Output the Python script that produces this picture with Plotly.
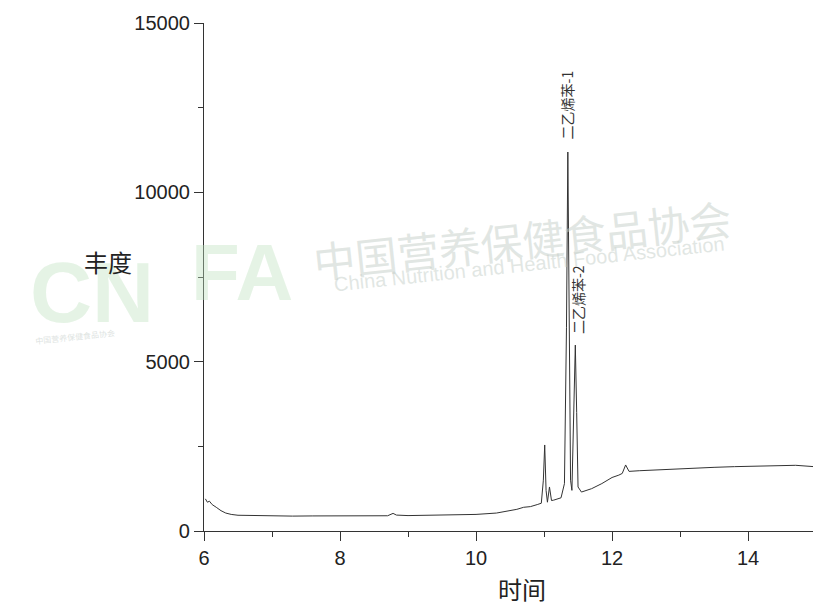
import plotly.graph_objects as go

# retention time (min) and abundance
time_min = [6.02, 6.05, 6.08, 6.12, 6.18, 6.25, 6.32, 6.40, 6.50, 6.70, 7.00, 7.30, 7.60,
            8.00, 8.40, 8.70, 8.78, 8.83, 9.00, 9.50, 10.00, 10.30, 10.50, 10.60, 10.70,
            10.80, 10.90, 10.96, 10.99, 11.01, 11.03, 11.05, 11.08, 11.11, 11.14, 11.20,
            11.25, 11.30, 11.33, 11.35, 11.37, 11.39, 11.41, 11.44, 11.46, 11.48, 11.50,
            11.55, 11.70, 11.85, 12.00, 12.10, 12.15, 12.20, 12.25, 12.40, 12.60, 12.80,
            13.00, 13.20, 13.50, 13.80, 14.00, 14.30, 14.50, 14.70, 14.97]
abundance = [950, 850, 880, 780, 700, 600, 530, 490, 465, 455, 450, 440, 445,
             450, 445, 450, 520, 470, 455, 465, 490, 530, 590, 640, 700,
             720, 780, 820, 1500, 2540, 1200, 850, 1300, 900, 910, 940,
             980, 1400, 6000, 11190, 6000, 1500, 1200, 3500, 5490, 3500, 1300,
             1150, 1250, 1400, 1580, 1650, 1700, 1950, 1760, 1780, 1800, 1820,
             1850, 1860, 1880, 1900, 1910, 1930, 1950, 1940, 1900]

peak_labels = ["二乙烯苯-1", "二乙烯苯-2"]
peak_label_x = [11.33, 11.50]
peak_label_y = [12580, 6820]

x_ticks = [6, 8, 10, 12, 14]
x_tick_text = ["6", "8", "10", "12", "14"]
y_ticks = [0, 5000, 10000, 15000]
y_tick_text = ["0", "5000", "10000", "15000"]

NUM_FONT = "Liberation Sans, Arial, sans-serif"
CJK_FONT = "Noto Sans CJK SC, sans-serif"
W, H = 813, 605
L, T, PW, PH = 204, 23, 609, 508


def px(xp):
    return (xp - L) / PW


def py(yp):
    return (T + PH - yp) / PH


def note(text, xp, yp, size, color, family=CJK_FONT, angle=0):
    return dict(text=text, xref="paper", yref="paper", x=px(xp), y=py(yp),
                xanchor="center", yanchor="middle", showarrow=False, textangle=angle,
                font=dict(family=family, size=size, color=color))


fig = go.Figure()
fig.add_trace(go.Scatter(x=time_min, y=abundance, mode="lines",
                         line=dict(color="#333333", width=1), showlegend=False,
                         hoverinfo="skip"))

wm = "rgba(196,206,200,0.5)"
green = "rgba(190,225,190,0.4)"
annotations = [
    note("中国营养保健食品协会", 522, 238, 42, wm, angle=-6),
    note("China Nutrition and Health Food Association", 529, 264, 20, wm, family=NUM_FONT, angle=-6),
    note("<b>CN</b>", 92, 292, 86, green, family=NUM_FONT),
    note("<b>FA</b>", 242, 272, 80, green, family=NUM_FONT),
    note("中国营养保健食品协会", 75, 336, 8, "rgba(200,208,204,0.6)", angle=-6),
    note("丰度", 108, 261, 24, "#222222"),
    note("时间", 522, 588, 24, "#222222"),
]
for t, xv, yv in zip(peak_labels, peak_label_x, peak_label_y):
    annotations.append(dict(text=t, x=xv, y=yv, xref="x", yref="y", showarrow=False,
                            xanchor="center", yanchor="middle", textangle=-90,
                            font=dict(family=CJK_FONT, size=14, color="#333333")))

axis_common = dict(ticks="outside", ticklen=9, tickwidth=1.2, automargin=False,
                   tickcolor="#333", showline=True, linecolor="#333", linewidth=1.2,
                   showgrid=False, zeroline=False,
                   tickfont=dict(family=NUM_FONT, size=20, color="#222"))

fig.update_layout(
    width=W, height=H,
    margin=dict(l=L, r=W - L - PW, t=T, b=H - T - PH, autoexpand=False),
    paper_bgcolor="white", plot_bgcolor="white",
    annotations=annotations,
    xaxis=dict(range=[6, 14.955], tickvals=x_ticks, ticktext=x_tick_text,
               minor=dict(dtick=1, tick0=6, ticks="outside", ticklen=5, tickcolor="#333"),
               **axis_common),
    yaxis=dict(range=[0, 15000], tickvals=y_ticks, ticktext=y_tick_text,
               minor=dict(dtick=2500, tick0=0, ticks="outside", ticklen=5, tickcolor="#333"),
               **axis_common),
)

fig.write_html("out.html", config={"displayModeBar": False},
               post_script="document.body.style.margin='0';document.body.style.overflow='hidden';")
